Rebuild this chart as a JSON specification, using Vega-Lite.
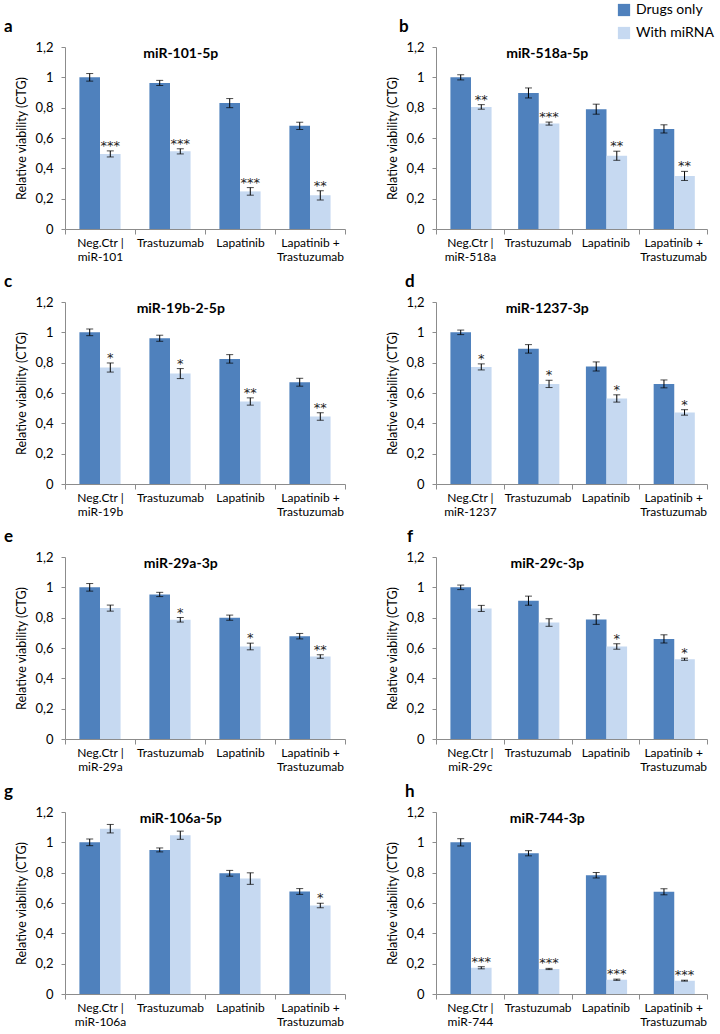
{
  "$schema": "https://vega.github.io/schema/vega-lite/v6.json",
  "padding": {"left": 3, "top": 3, "right": 5, "bottom": 3},
  "background": "white",
  "datasets": {
    "d": [
      {"p": "a", "cond": "Neg.Ctr |\nmiR-101", "grp": "Drugs only", "v": 1.0, "lo": 0.975, "hi": 1.025, "sig": ""},
      {"p": "a", "cond": "Neg.Ctr |\nmiR-101", "grp": "With miRNA", "v": 0.495, "lo": 0.475, "hi": 0.515, "sig": "***"},
      {"p": "a", "cond": "Trastuzumab", "grp": "Drugs only", "v": 0.963, "lo": 0.946, "hi": 0.98, "sig": ""},
      {"p": "a", "cond": "Trastuzumab", "grp": "With miRNA", "v": 0.512, "lo": 0.495, "hi": 0.529, "sig": "***"},
      {"p": "a", "cond": "Lapatinib", "grp": "Drugs only", "v": 0.83, "lo": 0.8, "hi": 0.86, "sig": ""},
      {"p": "a", "cond": "Lapatinib", "grp": "With miRNA", "v": 0.248, "lo": 0.223, "hi": 0.273, "sig": "***"},
      {"p": "a", "cond": "Lapatinib +\nTrastuzumab", "grp": "Drugs only", "v": 0.68, "lo": 0.656, "hi": 0.704, "sig": ""},
      {"p": "a", "cond": "Lapatinib +\nTrastuzumab", "grp": "With miRNA", "v": 0.222, "lo": 0.192, "hi": 0.252, "sig": "**"},

      {"p": "b", "cond": "Neg.Ctr |\nmiR-518a", "grp": "Drugs only", "v": 1.0, "lo": 0.983, "hi": 1.017, "sig": ""},
      {"p": "b", "cond": "Neg.Ctr |\nmiR-518a", "grp": "With miRNA", "v": 0.805, "lo": 0.79, "hi": 0.82, "sig": "**"},
      {"p": "b", "cond": "Trastuzumab", "grp": "Drugs only", "v": 0.897, "lo": 0.864, "hi": 0.93, "sig": ""},
      {"p": "b", "cond": "Trastuzumab", "grp": "With miRNA", "v": 0.695, "lo": 0.685, "hi": 0.705, "sig": "***"},
      {"p": "b", "cond": "Lapatinib", "grp": "Drugs only", "v": 0.79, "lo": 0.757, "hi": 0.823, "sig": ""},
      {"p": "b", "cond": "Lapatinib", "grp": "With miRNA", "v": 0.483, "lo": 0.453, "hi": 0.513, "sig": "**"},
      {"p": "b", "cond": "Lapatinib +\nTrastuzumab", "grp": "Drugs only", "v": 0.66, "lo": 0.633, "hi": 0.687, "sig": ""},
      {"p": "b", "cond": "Lapatinib +\nTrastuzumab", "grp": "With miRNA", "v": 0.35, "lo": 0.32, "hi": 0.38, "sig": "**"},

      {"p": "c", "cond": "Neg.Ctr |\nmiR-19b", "grp": "Drugs only", "v": 1.0, "lo": 0.978, "hi": 1.022, "sig": ""},
      {"p": "c", "cond": "Neg.Ctr |\nmiR-19b", "grp": "With miRNA", "v": 0.768, "lo": 0.738, "hi": 0.798, "sig": "*"},
      {"p": "c", "cond": "Trastuzumab", "grp": "Drugs only", "v": 0.961, "lo": 0.941, "hi": 0.981, "sig": ""},
      {"p": "c", "cond": "Trastuzumab", "grp": "With miRNA", "v": 0.728, "lo": 0.695, "hi": 0.761, "sig": "*"},
      {"p": "c", "cond": "Lapatinib", "grp": "Drugs only", "v": 0.825, "lo": 0.797, "hi": 0.853, "sig": ""},
      {"p": "c", "cond": "Lapatinib", "grp": "With miRNA", "v": 0.544, "lo": 0.52, "hi": 0.568, "sig": "**"},
      {"p": "c", "cond": "Lapatinib +\nTrastuzumab", "grp": "Drugs only", "v": 0.671, "lo": 0.645, "hi": 0.697, "sig": ""},
      {"p": "c", "cond": "Lapatinib +\nTrastuzumab", "grp": "With miRNA", "v": 0.445, "lo": 0.42, "hi": 0.47, "sig": "**"},

      {"p": "d", "cond": "Neg.Ctr |\nmiR-1237", "grp": "Drugs only", "v": 1.0, "lo": 0.985, "hi": 1.015, "sig": ""},
      {"p": "d", "cond": "Neg.Ctr |\nmiR-1237", "grp": "With miRNA", "v": 0.772, "lo": 0.752, "hi": 0.792, "sig": "*"},
      {"p": "d", "cond": "Trastuzumab", "grp": "Drugs only", "v": 0.891, "lo": 0.863, "hi": 0.919, "sig": ""},
      {"p": "d", "cond": "Trastuzumab", "grp": "With miRNA", "v": 0.66, "lo": 0.636, "hi": 0.684, "sig": "*"},
      {"p": "d", "cond": "Lapatinib", "grp": "Drugs only", "v": 0.775, "lo": 0.745, "hi": 0.805, "sig": ""},
      {"p": "d", "cond": "Lapatinib", "grp": "With miRNA", "v": 0.564, "lo": 0.54, "hi": 0.588, "sig": "*"},
      {"p": "d", "cond": "Lapatinib +\nTrastuzumab", "grp": "Drugs only", "v": 0.66, "lo": 0.634, "hi": 0.686, "sig": ""},
      {"p": "d", "cond": "Lapatinib +\nTrastuzumab", "grp": "With miRNA", "v": 0.472, "lo": 0.454, "hi": 0.49, "sig": "*"},

      {"p": "e", "cond": "Neg.Ctr |\nmiR-29a", "grp": "Drugs only", "v": 1.0, "lo": 0.975, "hi": 1.025, "sig": ""},
      {"p": "e", "cond": "Neg.Ctr |\nmiR-29a", "grp": "With miRNA", "v": 0.863, "lo": 0.843, "hi": 0.883, "sig": ""},
      {"p": "e", "cond": "Trastuzumab", "grp": "Drugs only", "v": 0.953, "lo": 0.939, "hi": 0.967, "sig": ""},
      {"p": "e", "cond": "Trastuzumab", "grp": "With miRNA", "v": 0.786, "lo": 0.771, "hi": 0.801, "sig": "*"},
      {"p": "e", "cond": "Lapatinib", "grp": "Drugs only", "v": 0.8, "lo": 0.783, "hi": 0.817, "sig": ""},
      {"p": "e", "cond": "Lapatinib", "grp": "With miRNA", "v": 0.61, "lo": 0.588, "hi": 0.632, "sig": "*"},
      {"p": "e", "cond": "Lapatinib +\nTrastuzumab", "grp": "Drugs only", "v": 0.678, "lo": 0.66, "hi": 0.696, "sig": ""},
      {"p": "e", "cond": "Lapatinib +\nTrastuzumab", "grp": "With miRNA", "v": 0.544, "lo": 0.532, "hi": 0.556, "sig": "**"},

      {"p": "f", "cond": "Neg.Ctr |\nmiR-29c", "grp": "Drugs only", "v": 1.0, "lo": 0.985, "hi": 1.015, "sig": ""},
      {"p": "f", "cond": "Neg.Ctr |\nmiR-29c", "grp": "With miRNA", "v": 0.861, "lo": 0.841, "hi": 0.881, "sig": ""},
      {"p": "f", "cond": "Trastuzumab", "grp": "Drugs only", "v": 0.912, "lo": 0.882, "hi": 0.942, "sig": ""},
      {"p": "f", "cond": "Trastuzumab", "grp": "With miRNA", "v": 0.768, "lo": 0.743, "hi": 0.793, "sig": ""},
      {"p": "f", "cond": "Lapatinib", "grp": "Drugs only", "v": 0.788, "lo": 0.756, "hi": 0.82, "sig": ""},
      {"p": "f", "cond": "Lapatinib", "grp": "With miRNA", "v": 0.61, "lo": 0.592, "hi": 0.628, "sig": "*"},
      {"p": "f", "cond": "Lapatinib +\nTrastuzumab", "grp": "Drugs only", "v": 0.66, "lo": 0.633, "hi": 0.687, "sig": ""},
      {"p": "f", "cond": "Lapatinib +\nTrastuzumab", "grp": "With miRNA", "v": 0.526, "lo": 0.519, "hi": 0.533, "sig": "*"},

      {"p": "g", "cond": "Neg.Ctr |\nmiR-106a", "grp": "Drugs only", "v": 1.0, "lo": 0.978, "hi": 1.022, "sig": ""},
      {"p": "g", "cond": "Neg.Ctr |\nmiR-106a", "grp": "With miRNA", "v": 1.09, "lo": 1.062, "hi": 1.118, "sig": ""},
      {"p": "g", "cond": "Trastuzumab", "grp": "Drugs only", "v": 0.95, "lo": 0.937, "hi": 0.963, "sig": ""},
      {"p": "g", "cond": "Trastuzumab", "grp": "With miRNA", "v": 1.047, "lo": 1.02, "hi": 1.074, "sig": ""},
      {"p": "g", "cond": "Lapatinib", "grp": "Drugs only", "v": 0.796, "lo": 0.777, "hi": 0.815, "sig": ""},
      {"p": "g", "cond": "Lapatinib", "grp": "With miRNA", "v": 0.761, "lo": 0.723, "hi": 0.799, "sig": ""},
      {"p": "g", "cond": "Lapatinib +\nTrastuzumab", "grp": "Drugs only", "v": 0.676, "lo": 0.657, "hi": 0.695, "sig": ""},
      {"p": "g", "cond": "Lapatinib +\nTrastuzumab", "grp": "With miRNA", "v": 0.584, "lo": 0.569, "hi": 0.599, "sig": "*"},

      {"p": "h", "cond": "Neg.Ctr |\nmiR-744", "grp": "Drugs only", "v": 1.0, "lo": 0.976, "hi": 1.024, "sig": ""},
      {"p": "h", "cond": "Neg.Ctr |\nmiR-744", "grp": "With miRNA", "v": 0.173, "lo": 0.166, "hi": 0.18, "sig": "***"},
      {"p": "h", "cond": "Trastuzumab", "grp": "Drugs only", "v": 0.928, "lo": 0.911, "hi": 0.945, "sig": ""},
      {"p": "h", "cond": "Trastuzumab", "grp": "With miRNA", "v": 0.165, "lo": 0.161, "hi": 0.169, "sig": "***"},
      {"p": "h", "cond": "Lapatinib", "grp": "Drugs only", "v": 0.783, "lo": 0.765, "hi": 0.801, "sig": ""},
      {"p": "h", "cond": "Lapatinib", "grp": "With miRNA", "v": 0.094, "lo": 0.09, "hi": 0.098, "sig": "***"},
      {"p": "h", "cond": "Lapatinib +\nTrastuzumab", "grp": "Drugs only", "v": 0.674, "lo": 0.654, "hi": 0.694, "sig": ""},
      {"p": "h", "cond": "Lapatinib +\nTrastuzumab", "grp": "With miRNA", "v": 0.088, "lo": 0.085, "hi": 0.091, "sig": "***"}
    ]
  },
  "config": {
    "font": "Lato",
    "view": {"stroke": null},
    "axis": {"grid": false, "domainColor": "#8c8c8c", "tickColor": "#8c8c8c", "labelColor": "#000000", "titleColor": "#000000", "labelFont": "Lato", "titleFont": "Lato", "titleFontWeight": "normal", "titleFontSize": 12.5, "labelOverlap": false},
    "axisX": {"tickBand": "extent", "labelAngle": 0, "tickSize": 5, "labelPadding": 3, "labelExpr": "split(datum.label, '\\n')", "labelLineHeight": 14, "labelFontSize": 12},
    "axisY": {"tickSize": 4, "labelPadding": 8, "titlePadding": 6, "labelExpr": "replace(format(datum.value, '~g'), '.', ',')", "labelFontSize": 13, "tickCount": 7},
    "title": {"fontSize": 14, "fontWeight": "bold", "anchor": "middle", "frame": "bounds", "offset": -20, "color": "#000000", "font": "Lato"},
    "legend": {"orient": "none", "legendX": 552, "legendY": -44, "symbolType": "square", "symbolSize": 150, "symbolStrokeWidth": 0, "labelFontSize": 14, "labelFont": "Lato", "labelColor": "#000000", "rowPadding": 9, "labelOffset": 5},
    "bar": {"stroke": null},
    "rule": {"color": "#000000", "strokeWidth": 1},
    "tick": {"color": "#000000", "size": 7, "thickness": 1},
    "text": {"fontSize": 13, "font": "DejaVu Sans", "baseline": "alphabetic", "dy": -1, "color": "#222222"},
    "concat": {"spacing": 40}
  },
  "vconcat": [
    {"hconcat": [
      {"title": {"text": "a", "anchor": "start", "fontSize": 17, "offset": 5, "dx": -12}, "vconcat": [{
        "width": 280, "height": 182, "data": {"name": "d"}, "transform": [{"filter": "datum.p == 'a'"}],
        "title": {"text": "miR-101-5p"},
        "encoding": {"x": {"field": "cond", "type": "nominal", "sort": null, "title": null, "scale": {"paddingInner": 0, "paddingOuter": 0}}, "xOffset": {"field": "grp", "type": "nominal", "scale": {"paddingInner": 0, "paddingOuter": 0.7}}},
        "layer": [
          {"mark": "bar", "encoding": {"y": {"field": "v", "type": "quantitative", "title": "Relative viability (CTG)", "scale": {"domain": [0, 1.2], "nice": false}, "axis": {"values": [0, 0.2, 0.4, 0.6, 0.8, 1, 1.2]}}, "color": {"field": "grp", "type": "nominal", "title": null, "scale": {"domain": ["Drugs only", "With miRNA"], "range": ["#4F81BD", "#C6D9F1"]}}}},
          {"mark": "rule", "encoding": {"y": {"field": "lo", "type": "quantitative", "title": "Relative viability (CTG)", "scale": {"domain": [0, 1.2], "nice": false}, "axis": {"values": [0, 0.2, 0.4, 0.6, 0.8, 1, 1.2]}}, "y2": {"field": "hi"}}},
          {"mark": "tick", "encoding": {"y": {"field": "lo", "type": "quantitative", "title": "Relative viability (CTG)", "scale": {"domain": [0, 1.2], "nice": false}, "axis": {"values": [0, 0.2, 0.4, 0.6, 0.8, 1, 1.2]}}}},
          {"mark": "tick", "encoding": {"y": {"field": "hi", "type": "quantitative", "title": "Relative viability (CTG)", "scale": {"domain": [0, 1.2], "nice": false}, "axis": {"values": [0, 0.2, 0.4, 0.6, 0.8, 1, 1.2]}}}},
          {"mark": "text", "encoding": {"y": {"field": "hi", "type": "quantitative", "title": "Relative viability (CTG)", "scale": {"domain": [0, 1.2], "nice": false}, "axis": {"values": [0, 0.2, 0.4, 0.6, 0.8, 1, 1.2]}}, "text": {"field": "sig"}}}
        ]
      }]},
      {"title": {"text": "b", "anchor": "start", "fontSize": 17, "offset": 5, "dx": 12}, "vconcat": [{
        "width": 271, "height": 182, "data": {"name": "d"}, "transform": [{"filter": "datum.p == 'b'"}],
        "title": {"text": "miR-518a-5p"},
        "encoding": {"x": {"field": "cond", "type": "nominal", "sort": null, "title": null, "scale": {"paddingInner": 0, "paddingOuter": 0}}, "xOffset": {"field": "grp", "type": "nominal", "scale": {"paddingInner": 0, "paddingOuter": 0.7}}},
        "layer": [
          {"mark": "bar", "encoding": {"y": {"field": "v", "type": "quantitative", "title": "Relative viability (CTG)", "scale": {"domain": [0, 1.2], "nice": false}, "axis": {"values": [0, 0.2, 0.4, 0.6, 0.8, 1, 1.2]}}, "color": {"field": "grp", "type": "nominal", "title": null, "scale": {"domain": ["Drugs only", "With miRNA"], "range": ["#4F81BD", "#C6D9F1"]}}}},
          {"mark": "rule", "encoding": {"y": {"field": "lo", "type": "quantitative", "title": "Relative viability (CTG)", "scale": {"domain": [0, 1.2], "nice": false}, "axis": {"values": [0, 0.2, 0.4, 0.6, 0.8, 1, 1.2]}}, "y2": {"field": "hi"}}},
          {"mark": "tick", "encoding": {"y": {"field": "lo", "type": "quantitative", "title": "Relative viability (CTG)", "scale": {"domain": [0, 1.2], "nice": false}, "axis": {"values": [0, 0.2, 0.4, 0.6, 0.8, 1, 1.2]}}}},
          {"mark": "tick", "encoding": {"y": {"field": "hi", "type": "quantitative", "title": "Relative viability (CTG)", "scale": {"domain": [0, 1.2], "nice": false}, "axis": {"values": [0, 0.2, 0.4, 0.6, 0.8, 1, 1.2]}}}},
          {"mark": "text", "encoding": {"y": {"field": "hi", "type": "quantitative", "title": "Relative viability (CTG)", "scale": {"domain": [0, 1.2], "nice": false}, "axis": {"values": [0, 0.2, 0.4, 0.6, 0.8, 1, 1.2]}}, "text": {"field": "sig"}}}
        ]
      }]}
    ]},
    {"hconcat": [
      {"title": {"text": "c", "anchor": "start", "fontSize": 17, "offset": 5, "dx": -12}, "vconcat": [{
        "width": 280, "height": 182, "data": {"name": "d"}, "transform": [{"filter": "datum.p == 'c'"}],
        "title": {"text": "miR-19b-2-5p"},
        "encoding": {"x": {"field": "cond", "type": "nominal", "sort": null, "title": null, "scale": {"paddingInner": 0, "paddingOuter": 0}}, "xOffset": {"field": "grp", "type": "nominal", "scale": {"paddingInner": 0, "paddingOuter": 0.7}}},
        "layer": [
          {"mark": "bar", "encoding": {"y": {"field": "v", "type": "quantitative", "title": "Relative viability (CTG)", "scale": {"domain": [0, 1.2], "nice": false}, "axis": {"values": [0, 0.2, 0.4, 0.6, 0.8, 1, 1.2]}}, "color": {"field": "grp", "type": "nominal", "title": null, "scale": {"domain": ["Drugs only", "With miRNA"], "range": ["#4F81BD", "#C6D9F1"]}}}},
          {"mark": "rule", "encoding": {"y": {"field": "lo", "type": "quantitative", "title": "Relative viability (CTG)", "scale": {"domain": [0, 1.2], "nice": false}, "axis": {"values": [0, 0.2, 0.4, 0.6, 0.8, 1, 1.2]}}, "y2": {"field": "hi"}}},
          {"mark": "tick", "encoding": {"y": {"field": "lo", "type": "quantitative", "title": "Relative viability (CTG)", "scale": {"domain": [0, 1.2], "nice": false}, "axis": {"values": [0, 0.2, 0.4, 0.6, 0.8, 1, 1.2]}}}},
          {"mark": "tick", "encoding": {"y": {"field": "hi", "type": "quantitative", "title": "Relative viability (CTG)", "scale": {"domain": [0, 1.2], "nice": false}, "axis": {"values": [0, 0.2, 0.4, 0.6, 0.8, 1, 1.2]}}}},
          {"mark": "text", "encoding": {"y": {"field": "hi", "type": "quantitative", "title": "Relative viability (CTG)", "scale": {"domain": [0, 1.2], "nice": false}, "axis": {"values": [0, 0.2, 0.4, 0.6, 0.8, 1, 1.2]}}, "text": {"field": "sig"}}}
        ]
      }]},
      {"title": {"text": "d", "anchor": "start", "fontSize": 17, "offset": 5, "dx": 18}, "vconcat": [{
        "width": 271, "height": 182, "data": {"name": "d"}, "transform": [{"filter": "datum.p == 'd'"}],
        "title": {"text": "miR-1237-3p"},
        "encoding": {"x": {"field": "cond", "type": "nominal", "sort": null, "title": null, "scale": {"paddingInner": 0, "paddingOuter": 0}}, "xOffset": {"field": "grp", "type": "nominal", "scale": {"paddingInner": 0, "paddingOuter": 0.7}}},
        "layer": [
          {"mark": "bar", "encoding": {"y": {"field": "v", "type": "quantitative", "title": "Relative viability (CTG)", "scale": {"domain": [0, 1.2], "nice": false}, "axis": {"values": [0, 0.2, 0.4, 0.6, 0.8, 1, 1.2]}}, "color": {"field": "grp", "type": "nominal", "title": null, "scale": {"domain": ["Drugs only", "With miRNA"], "range": ["#4F81BD", "#C6D9F1"]}}}},
          {"mark": "rule", "encoding": {"y": {"field": "lo", "type": "quantitative", "title": "Relative viability (CTG)", "scale": {"domain": [0, 1.2], "nice": false}, "axis": {"values": [0, 0.2, 0.4, 0.6, 0.8, 1, 1.2]}}, "y2": {"field": "hi"}}},
          {"mark": "tick", "encoding": {"y": {"field": "lo", "type": "quantitative", "title": "Relative viability (CTG)", "scale": {"domain": [0, 1.2], "nice": false}, "axis": {"values": [0, 0.2, 0.4, 0.6, 0.8, 1, 1.2]}}}},
          {"mark": "tick", "encoding": {"y": {"field": "hi", "type": "quantitative", "title": "Relative viability (CTG)", "scale": {"domain": [0, 1.2], "nice": false}, "axis": {"values": [0, 0.2, 0.4, 0.6, 0.8, 1, 1.2]}}}},
          {"mark": "text", "encoding": {"y": {"field": "hi", "type": "quantitative", "title": "Relative viability (CTG)", "scale": {"domain": [0, 1.2], "nice": false}, "axis": {"values": [0, 0.2, 0.4, 0.6, 0.8, 1, 1.2]}}, "text": {"field": "sig"}}}
        ]
      }]}
    ]},
    {"hconcat": [
      {"title": {"text": "e", "anchor": "start", "fontSize": 17, "offset": 5, "dx": -12}, "vconcat": [{
        "width": 280, "height": 182, "data": {"name": "d"}, "transform": [{"filter": "datum.p == 'e'"}],
        "title": {"text": "miR-29a-3p"},
        "encoding": {"x": {"field": "cond", "type": "nominal", "sort": null, "title": null, "scale": {"paddingInner": 0, "paddingOuter": 0}}, "xOffset": {"field": "grp", "type": "nominal", "scale": {"paddingInner": 0, "paddingOuter": 0.7}}},
        "layer": [
          {"mark": "bar", "encoding": {"y": {"field": "v", "type": "quantitative", "title": "Relative viability (CTG)", "scale": {"domain": [0, 1.2], "nice": false}, "axis": {"values": [0, 0.2, 0.4, 0.6, 0.8, 1, 1.2]}}, "color": {"field": "grp", "type": "nominal", "title": null, "scale": {"domain": ["Drugs only", "With miRNA"], "range": ["#4F81BD", "#C6D9F1"]}}}},
          {"mark": "rule", "encoding": {"y": {"field": "lo", "type": "quantitative", "title": "Relative viability (CTG)", "scale": {"domain": [0, 1.2], "nice": false}, "axis": {"values": [0, 0.2, 0.4, 0.6, 0.8, 1, 1.2]}}, "y2": {"field": "hi"}}},
          {"mark": "tick", "encoding": {"y": {"field": "lo", "type": "quantitative", "title": "Relative viability (CTG)", "scale": {"domain": [0, 1.2], "nice": false}, "axis": {"values": [0, 0.2, 0.4, 0.6, 0.8, 1, 1.2]}}}},
          {"mark": "tick", "encoding": {"y": {"field": "hi", "type": "quantitative", "title": "Relative viability (CTG)", "scale": {"domain": [0, 1.2], "nice": false}, "axis": {"values": [0, 0.2, 0.4, 0.6, 0.8, 1, 1.2]}}}},
          {"mark": "text", "encoding": {"y": {"field": "hi", "type": "quantitative", "title": "Relative viability (CTG)", "scale": {"domain": [0, 1.2], "nice": false}, "axis": {"values": [0, 0.2, 0.4, 0.6, 0.8, 1, 1.2]}}, "text": {"field": "sig"}}}
        ]
      }]},
      {"title": {"text": "f", "anchor": "start", "fontSize": 17, "offset": 5, "dx": 20}, "vconcat": [{
        "width": 271, "height": 182, "data": {"name": "d"}, "transform": [{"filter": "datum.p == 'f'"}],
        "title": {"text": "miR-29c-3p"},
        "encoding": {"x": {"field": "cond", "type": "nominal", "sort": null, "title": null, "scale": {"paddingInner": 0, "paddingOuter": 0}}, "xOffset": {"field": "grp", "type": "nominal", "scale": {"paddingInner": 0, "paddingOuter": 0.7}}},
        "layer": [
          {"mark": "bar", "encoding": {"y": {"field": "v", "type": "quantitative", "title": "Relative viability (CTG)", "scale": {"domain": [0, 1.2], "nice": false}, "axis": {"values": [0, 0.2, 0.4, 0.6, 0.8, 1, 1.2]}}, "color": {"field": "grp", "type": "nominal", "title": null, "scale": {"domain": ["Drugs only", "With miRNA"], "range": ["#4F81BD", "#C6D9F1"]}}}},
          {"mark": "rule", "encoding": {"y": {"field": "lo", "type": "quantitative", "title": "Relative viability (CTG)", "scale": {"domain": [0, 1.2], "nice": false}, "axis": {"values": [0, 0.2, 0.4, 0.6, 0.8, 1, 1.2]}}, "y2": {"field": "hi"}}},
          {"mark": "tick", "encoding": {"y": {"field": "lo", "type": "quantitative", "title": "Relative viability (CTG)", "scale": {"domain": [0, 1.2], "nice": false}, "axis": {"values": [0, 0.2, 0.4, 0.6, 0.8, 1, 1.2]}}}},
          {"mark": "tick", "encoding": {"y": {"field": "hi", "type": "quantitative", "title": "Relative viability (CTG)", "scale": {"domain": [0, 1.2], "nice": false}, "axis": {"values": [0, 0.2, 0.4, 0.6, 0.8, 1, 1.2]}}}},
          {"mark": "text", "encoding": {"y": {"field": "hi", "type": "quantitative", "title": "Relative viability (CTG)", "scale": {"domain": [0, 1.2], "nice": false}, "axis": {"values": [0, 0.2, 0.4, 0.6, 0.8, 1, 1.2]}}, "text": {"field": "sig"}}}
        ]
      }]}
    ]},
    {"hconcat": [
      {"title": {"text": "g", "anchor": "start", "fontSize": 17, "offset": 5, "dx": -12}, "vconcat": [{
        "width": 280, "height": 182, "data": {"name": "d"}, "transform": [{"filter": "datum.p == 'g'"}],
        "title": {"text": "miR-106a-5p"},
        "encoding": {"x": {"field": "cond", "type": "nominal", "sort": null, "title": null, "scale": {"paddingInner": 0, "paddingOuter": 0}}, "xOffset": {"field": "grp", "type": "nominal", "scale": {"paddingInner": 0, "paddingOuter": 0.7}}},
        "layer": [
          {"mark": "bar", "encoding": {"y": {"field": "v", "type": "quantitative", "title": "Relative viability (CTG)", "scale": {"domain": [0, 1.2], "nice": false}, "axis": {"values": [0, 0.2, 0.4, 0.6, 0.8, 1, 1.2]}}, "color": {"field": "grp", "type": "nominal", "title": null, "scale": {"domain": ["Drugs only", "With miRNA"], "range": ["#4F81BD", "#C6D9F1"]}}}},
          {"mark": "rule", "encoding": {"y": {"field": "lo", "type": "quantitative", "title": "Relative viability (CTG)", "scale": {"domain": [0, 1.2], "nice": false}, "axis": {"values": [0, 0.2, 0.4, 0.6, 0.8, 1, 1.2]}}, "y2": {"field": "hi"}}},
          {"mark": "tick", "encoding": {"y": {"field": "lo", "type": "quantitative", "title": "Relative viability (CTG)", "scale": {"domain": [0, 1.2], "nice": false}, "axis": {"values": [0, 0.2, 0.4, 0.6, 0.8, 1, 1.2]}}}},
          {"mark": "tick", "encoding": {"y": {"field": "hi", "type": "quantitative", "title": "Relative viability (CTG)", "scale": {"domain": [0, 1.2], "nice": false}, "axis": {"values": [0, 0.2, 0.4, 0.6, 0.8, 1, 1.2]}}}},
          {"mark": "text", "encoding": {"y": {"field": "hi", "type": "quantitative", "title": "Relative viability (CTG)", "scale": {"domain": [0, 1.2], "nice": false}, "axis": {"values": [0, 0.2, 0.4, 0.6, 0.8, 1, 1.2]}}, "text": {"field": "sig"}}}
        ]
      }]},
      {"title": {"text": "h", "anchor": "start", "fontSize": 17, "offset": 5, "dx": 18}, "vconcat": [{
        "width": 271, "height": 182, "data": {"name": "d"}, "transform": [{"filter": "datum.p == 'h'"}],
        "title": {"text": "miR-744-3p"},
        "encoding": {"x": {"field": "cond", "type": "nominal", "sort": null, "title": null, "scale": {"paddingInner": 0, "paddingOuter": 0}}, "xOffset": {"field": "grp", "type": "nominal", "scale": {"paddingInner": 0, "paddingOuter": 0.7}}},
        "layer": [
          {"mark": "bar", "encoding": {"y": {"field": "v", "type": "quantitative", "title": "Relative viability (CTG)", "scale": {"domain": [0, 1.2], "nice": false}, "axis": {"values": [0, 0.2, 0.4, 0.6, 0.8, 1, 1.2]}}, "color": {"field": "grp", "type": "nominal", "title": null, "scale": {"domain": ["Drugs only", "With miRNA"], "range": ["#4F81BD", "#C6D9F1"]}}}},
          {"mark": "rule", "encoding": {"y": {"field": "lo", "type": "quantitative", "title": "Relative viability (CTG)", "scale": {"domain": [0, 1.2], "nice": false}, "axis": {"values": [0, 0.2, 0.4, 0.6, 0.8, 1, 1.2]}}, "y2": {"field": "hi"}}},
          {"mark": "tick", "encoding": {"y": {"field": "lo", "type": "quantitative", "title": "Relative viability (CTG)", "scale": {"domain": [0, 1.2], "nice": false}, "axis": {"values": [0, 0.2, 0.4, 0.6, 0.8, 1, 1.2]}}}},
          {"mark": "tick", "encoding": {"y": {"field": "hi", "type": "quantitative", "title": "Relative viability (CTG)", "scale": {"domain": [0, 1.2], "nice": false}, "axis": {"values": [0, 0.2, 0.4, 0.6, 0.8, 1, 1.2]}}}},
          {"mark": "text", "encoding": {"y": {"field": "hi", "type": "quantitative", "title": "Relative viability (CTG)", "scale": {"domain": [0, 1.2], "nice": false}, "axis": {"values": [0, 0.2, 0.4, 0.6, 0.8, 1, 1.2]}}, "text": {"field": "sig"}}}
        ]
      }]}
    ]}
  ],
  "spacing": 11
}
